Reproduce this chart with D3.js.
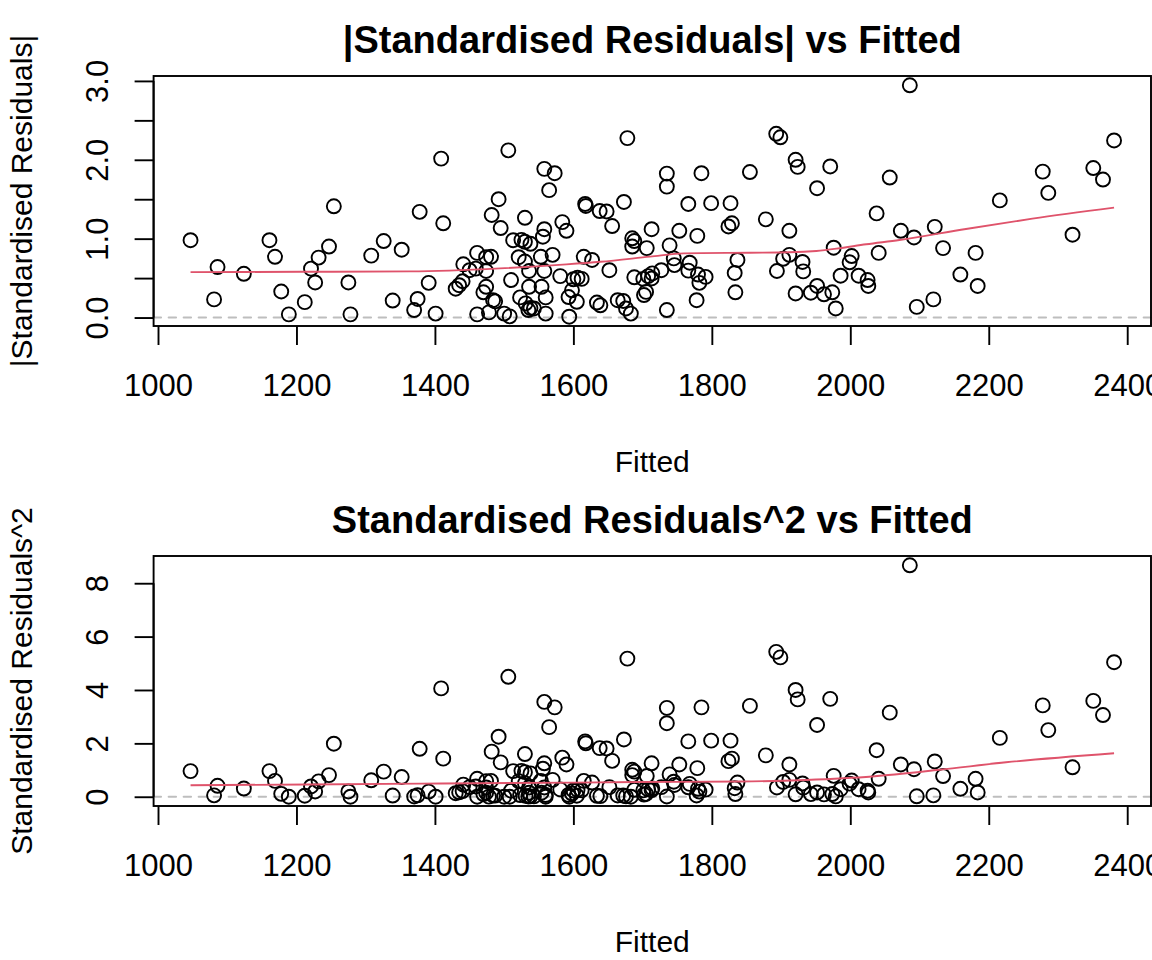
<!DOCTYPE html>
<html>
<head>
<meta charset="utf-8">
<script src="https://cdn.jsdelivr.net/npm/d3@7"></script>
<style>
    body { margin: 0; background: #fff; }
    #chart { width: 1152px; height: 960px; }
    text { font-family: "Liberation Sans", Arial, Helvetica, sans-serif; }
</style>
</head>
<body>
<div id="chart"></div>
<script>

// fitted values and |standardised residuals|
const fitted = [
    1047, 1081, 1086, 1124, 1161, 1169, 1178, 1189, 1212, 1221, 1227, 1232, 1247, 1254, 1275, 1278,
    1308, 1326, 1339, 1352, 1409, 1378, 1412, 1391, 1375, 1370, 1401, 1506, 1492, 1482, 1495, 1461,
    1441, 1450, 1459, 1474, 1474, 1481, 1430, 1435, 1440, 1470, 1474, 1484, 1487, 1461, 1478, 1500,
    1508, 1510, 1513, 1525, 1530, 1538, 1521, 1530, 1536, 1530, 1558, 1573, 1565, 1558, 1556, 1553,
    1570, 1584, 1590, 1558, 1581, 1536, 1554, 1560, 1523, 1531, 1538, 1543, 1535, 1560, 1594, 1593,
    1598, 1605, 1600, 1606, 1612, 1615, 1627, 1617, 1618, 1638, 1648, 1656, 1673, 1678, 1652, 1634,
    1639, 1664, 1672, 1676, 1683, 1685, 1688, 1685, 1706, 1713, 1688, 1701, 1708, 1714, 1713, 1705,
    1702, 1735, 1735, 1785, 1766, 1799, 1827, 1855, 1824, 1829, 1878, 1753, 1779, 1739, 1745, 1746,
    1727, 1766, 1768, 1780, 1782, 1791, 1735, 1778, 1834, 1833, 1837, 1894, 1903, 1912, 1912, 1931,
    1932, 1921, 1943, 1952, 1962, 1974, 1979, 1986, 1976, 1999, 2002, 2012, 2025, 2026, 2041, 2038,
    2073, 2057, 1971, 1952, 1921, 1924, 1893, 1899, 2086, 2092, 2122, 2134, 2181, 2159, 2184, 2120,
    2096, 2216, 2278, 2286, 2321, 2351, 2365, 2381
];
const absResid = [
    0.98, 0.23, 0.64, 0.555, 0.98, 0.77, 0.33, 0.04, 0.195, 0.62, 0.445, 0.76, 0.90, 1.41, 0.445, 0.04,
    0.785, 0.97, 0.215, 0.86, 2.015, 1.34, 1.195, 0.44, 0.235, 0.095, 0.05, 2.12, 1.50, 1.30, 1.135, 0.82,
    0.675, 0.60, 0.62, 0.59, 0.765, 0.77, 0.365, 0.41, 0.46, 0.32, 0.39, 0.22, 0.205, 0.04, 0.065, 0.05,
    0.015, 0.475, 0.98, 0.985, 0.96, 0.935, 0.765, 0.71, 0.59, 1.265, 1.885, 1.83, 1.615, 1.12, 1.025, 0.77,
    0.795, 1.21, 1.10, 0.59, 0.525, 0.39, 0.39, 0.255, 0.255, 0.18, 0.12, 0.115, 0.095, 0.05, 0.01, 0.26,
    0.345, 0.20, 0.485, 0.505, 0.49, 0.77, 0.73, 1.44, 1.415, 1.35, 1.345, 1.16, 1.465, 2.275, 0.60, 0.19,
    0.155, 0.22, 0.21, 0.115, 0.05, 1.005, 0.97, 0.90, 0.88, 1.12, 0.51, 0.49, 0.525, 0.56, 0.495, 0.325,
    0.285, 1.825, 1.66, 1.83, 1.44, 1.45, 1.45, 1.845, 1.155, 1.195, 1.245, 1.10, 1.035, 0.915, 0.75, 0.665,
    0.60, 0.595, 0.695, 0.545, 0.44, 0.515, 0.095, 0.22, 0.32, 0.565, 0.73, 0.59, 0.745, 0.795, 1.10, 0.705,
    0.585, 0.305, 0.315, 0.40, 0.295, 0.32, 0.115, 0.53, 0.885, 0.70, 0.78, 0.53, 0.475, 0.40, 0.82, 1.32,
    1.10, 1.775, 1.915, 1.64, 2.00, 1.91, 2.33, 2.285, 2.945, 1.015, 1.15, 0.88, 0.82, 0.545, 0.40, 0.23,
    0.135, 1.485, 1.85, 1.58, 1.05, 1.895, 1.75, 2.245
];
// the lower panel plots the very same residuals, squared
const sqResid = absResid.map(d => d * d);

// red smoother lines
const absSmoothX = [1047, 1206, 1364, 1494, 1590, 1639, 1711, 1759, 1855, 1912, 1951, 1980, 2023, 2071, 2167, 2263, 2381];
const absSmoothY = [0.576, 0.580, 0.585, 0.623, 0.674, 0.707, 0.772, 0.814, 0.822, 0.827, 0.844, 0.873, 0.929, 0.983, 1.123, 1.254, 1.394];
const sqSmoothX = [1047, 1380, 1600, 1696, 1840, 1936, 2032, 2129, 2225, 2381];
const sqSmoothY = [0.43, 0.49, 0.53, 0.55, 0.57, 0.63, 0.76, 1.01, 1.29, 1.63];

const xTicks = [1000, 1200, 1400, 1600, 1800, 2000, 2200, 2400];
const absTicks = [0, 0.5, 1, 1.5, 2, 2.5, 3];
const absTickLabels = ["0.0", "", "1.0", "", "2.0", "", "3.0"];
const sqTicks = [0, 2, 4, 6, 8];
const sqTickLabels = ["0", "2", "4", "6", "8"];

const W = 1152, H = 960;
const margin = { top: 76, right: 1, bottom: 154, left: 153.6 };
const panelH = 480;
const lw = 1.9;

// R style axis range: data range plus 4% each side
function padded(values) {
    const [lo, hi] = d3.extent(values);
    const r = hi - lo;
    return [lo - 0.04 * r, hi + 0.04 * r];
}

function drawPanel(svgRoot, offsetY, cfg) {
    const width = W - margin.left - margin.right;
    const height = panelH - margin.top - margin.bottom;

    const svg = svgRoot.append("g")
        .attr("transform", `translate(${margin.left},${offsetY + margin.top})`);

    const x = d3.scaleLinear().domain(padded(fitted)).range([0, width]);
    const y = d3.scaleLinear().domain(padded(cfg.values)).range([height, 0]);

    // zero reference line
    svg.append("line")
        .attr("x1", 0).attr("x2", width)
        .attr("y1", y(0)).attr("y2", y(0))
        .attr("stroke", "#bebebe")
        .attr("stroke-width", lw)
        .attr("stroke-dasharray", "7.5,7.5")
        .attr("stroke-linecap", "round");

    svg.selectAll("circle.pt")
        .data(fitted)
        .enter()
        .append("circle")
        .attr("class", "pt")
        .attr("cx", d => x(d))
        .attr("cy", (d, i) => y(cfg.values[i]))
        .attr("r", 7)
        .attr("fill", "none")
        .attr("stroke", "#000")
        .attr("stroke-width", lw);

    const smooth = d3.line()
        .x((d, i) => x(d))
        .y((d, i) => y(cfg.smoothY[i]))
        .curve(d3.curveMonotoneX);
    svg.append("path")
        .attr("d", smooth(cfg.smoothX))
        .attr("fill", "none")
        .attr("stroke", "#DF536B")
        .attr("stroke-width", lw);

    // x axis
    const xa = svg.append("g")
        .attr("transform", `translate(0,${height})`)
        .call(d3.axisBottom(x).tickValues(xTicks).tickSize(19).tickPadding(29).tickFormat(d3.format("d")));
    xa.select(".domain").remove();
    xa.selectAll("line").attr("stroke", "#000").attr("stroke-width", lw);
    xa.selectAll("text").attr("fill", "#000").style("font-size", "31px");

    // y axis, labels turned like R's las = 0
    const ya = svg.append("g")
        .call(d3.axisLeft(y).tickValues(cfg.ticks).tickSize(19).tickFormat((d, i) => cfg.tickLabels[i]));
    ya.select(".domain").remove();
    ya.selectAll("line").attr("stroke", "#000").attr("stroke-width", lw);
    ya.selectAll("text")
        .attr("x", 0).attr("y", 0).attr("dy", 0)
        .attr("transform", "translate(-45.6,0) rotate(-90)")
        .style("text-anchor", "middle")
        .attr("fill", "#000")
        .style("font-size", "31px");
    ya.append("line")
        .attr("x1", 0).attr("x2", 0)
        .attr("y1", y(cfg.ticks[0])).attr("y2", y(cfg.ticks[cfg.ticks.length - 1]))
        .attr("stroke", "#000").attr("stroke-width", lw);

    // box
    svg.append("rect")
        .attr("width", width).attr("height", height)
        .attr("fill", "none")
        .attr("stroke", "#000")
        .attr("stroke-width", lw);

    svg.append("text")
        .attr("text-anchor", "middle")
        .attr("x", width / 2)
        .attr("y", 52.5 - margin.top)
        .style("font-size", "38px")
        .style("font-weight", "bold")
        .text(cfg.title);

    svg.append("text")
        .attr("text-anchor", "middle")
        .attr("x", width / 2)
        .attr("y", 472 - margin.top)
        .style("font-size", "30px")
        .text("Fitted");

    svg.append("text")
        .attr("text-anchor", "middle")
        .attr("transform", `translate(${32 - margin.left},${height / 2}) rotate(-90)`)
        .style("font-size", "30px")
        .text(cfg.ylab);
}

const root = d3.select("#chart")
    .append("svg")
    .attr("width", W)
    .attr("height", H);

drawPanel(root, 0, {
    values: absResid,
    smoothX: absSmoothX,
    smoothY: absSmoothY,
    ticks: absTicks,
    tickLabels: absTickLabels,
    title: "|Standardised Residuals| vs Fitted",
    ylab: "|Standardised Residuals|"
});

drawPanel(root, panelH, {
    values: sqResid,
    smoothX: sqSmoothX,
    smoothY: sqSmoothY,
    ticks: sqTicks,
    tickLabels: sqTickLabels,
    title: "Standardised Residuals^2 vs Fitted",
    ylab: "Standardised Residuals^2"
});
</script>
</body>
</html>
